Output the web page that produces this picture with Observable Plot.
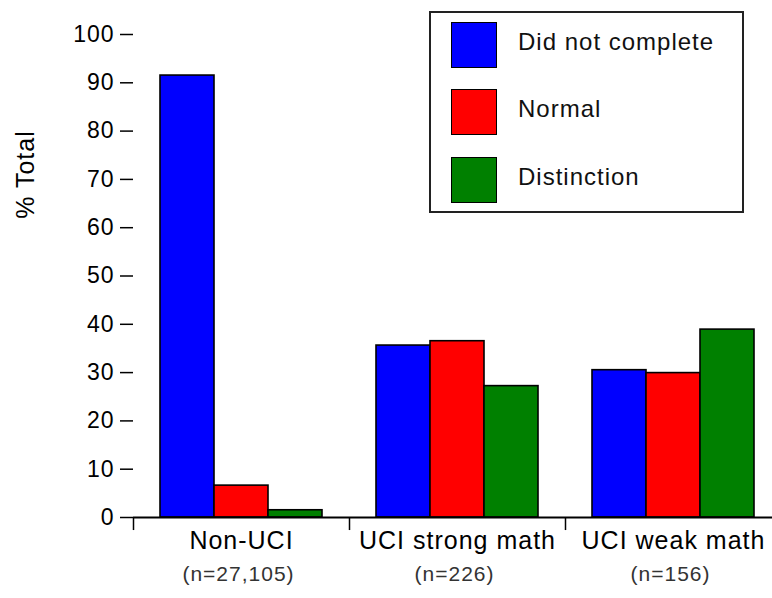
<!DOCTYPE html>
<html>
<head>
<meta charset="utf-8">
<script src="https://cdn.jsdelivr.net/npm/d3@7"></script>
<script src="https://cdn.jsdelivr.net/npm/@observablehq/plot@0.6"></script>
<style>
  html, body { margin: 0; padding: 0; background: #fff; }
  #wrap { position: relative; width: 772px; height: 598px; font-family: "Liberation Sans", Arial, sans-serif; }
  #wrap svg text { letter-spacing: 1px; }
  #legend { position: absolute; left: 429px; top: 11px; width: 311px; height: 198px; border: 2px solid #222; background: #fff; }
  .item { position: absolute; left: 20px; height: 46px; display: flex; align-items: center; }
  .sw { width: 44px; height: 44px; border: 1.5px solid #000; margin-right: 21px; }
  .lab { font-size: 24px; letter-spacing: 1px; color: #111; position: relative; top: -3px; }
</style>
</head>
<body>
<div id="wrap"></div>
<script>
const groups = ["Non-UCI", "UCI strong math", "UCI weak math"];
const groupN = ["(n=27,105)", "(n=226)", "(n=156)"];
const series = ["Did not complete", "Normal", "Distinction"];
const colors = ["#0000ff", "#ff0000", "#008000"];
const didNotComplete = [91.5, 35.6, 30.5];
const normal = [6.6, 36.5, 29.9];
const distinction = [1.5, 27.2, 38.9];
const yTicks = [0, 10, 20, 30, 40, 50, 60, 70, 80, 90, 100];

const values = [didNotComplete, normal, distinction];
const data = [];
groups.forEach((g, gi) => series.forEach((s, si) => data.push({group: g, series: s, value: values[si][gi]})));

const font = "Liberation Sans, Arial, sans-serif";

const chart = Plot.plot({
  width: 772,
  height: 598,
  marginLeft: 133,
  marginRight: 0,
  marginTop: 34,
  marginBottom: 81,
  style: {fontFamily: font, background: "#fff", color: "#000", overflow: "visible"},
  fx: {domain: groups, range: [133, 781], padding: 0, axis: null},
  x: {domain: series, paddingInner: 0, paddingOuter: 0.5, axis: null},
  y: {domain: [0, 100], axis: null},
  color: {domain: series, range: colors},
  marks: [
    Plot.barY(data, {fx: "group", x: "series", y: "value", fill: "series", stroke: "#000", strokeWidth: 1.6}),
    Plot.ruleY([0], {stroke: "#000", strokeWidth: 1.8}),
    Plot.ruleX(groups, {fx: d => d, x: () => series[0], dx: -54, y1: 0, y2: -2.7, stroke: "#000", strokeWidth: 1.5}),
    Plot.axisY({ticks: yTicks, tickSize: 13, tickPadding: 6, fontSize: 23, line: true, label: null, stroke: "#000", strokeWidth: 1.5, color: "#000"}),
    Plot.text(groups, {fx: d => d, frameAnchor: "bottom", dy: 31, text: d => d, fontSize: 25, fill: "#000"}),
    Plot.text(groups, {fx: d => d, frameAnchor: "bottom", dy: 63, dx: -3, text: (d, i) => groupN[i], fontSize: 21, fill: "#333"}),
    Plot.text(["% Total"], {fx: () => groups[0], frameAnchor: "left", textAnchor: "middle", dx: -108, y: () => 71, rotate: -90, text: d => d, fontSize: 25, fill: "#000"})
  ]
});

const wrap = document.getElementById("wrap");
wrap.appendChild(chart);

const legend = document.createElement("div");
legend.id = "legend";
const tops = [9, 76, 144];
series.forEach((s, i) => {
  const it = document.createElement("div");
  it.className = "item";
  it.style.top = tops[i] + "px";
  const sw = document.createElement("div");
  sw.className = "sw";
  sw.style.background = colors[i];
  const lab = document.createElement("span");
  lab.className = "lab";
  lab.textContent = s;
  it.appendChild(sw);
  it.appendChild(lab);
  legend.appendChild(it);
});
wrap.appendChild(legend);
</script>
</body>
</html>
